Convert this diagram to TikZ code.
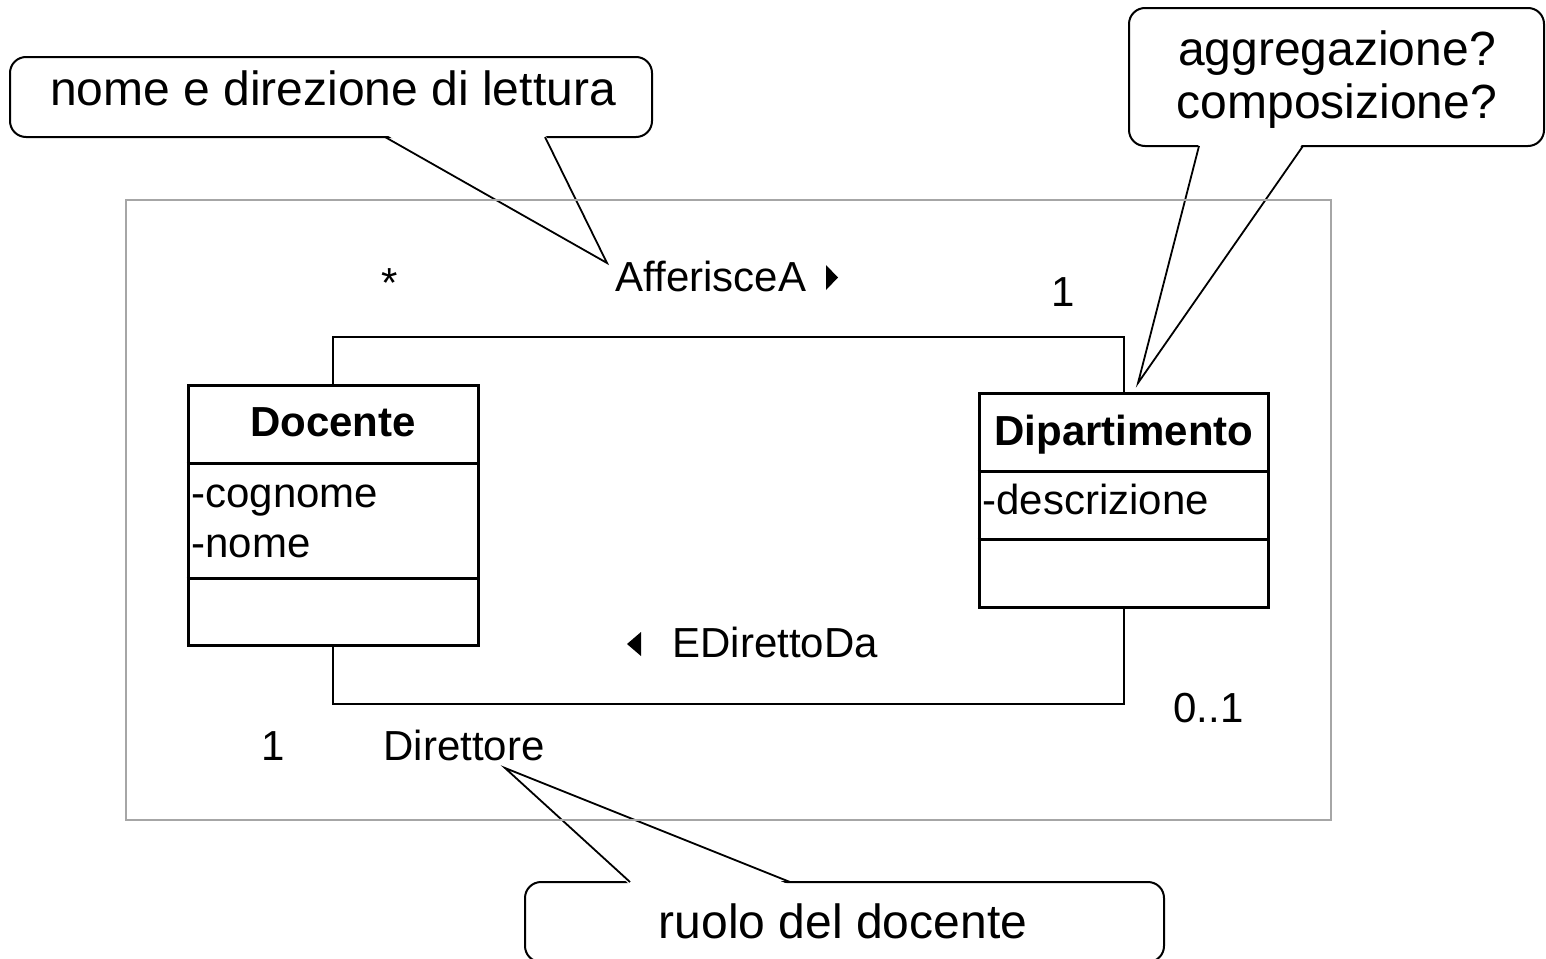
\documentclass[tikz,border=0pt]{standalone}
\usepackage{fontspec}
\setmainfont{Liberation Sans}

\begin{document}
\begin{tikzpicture}[x=0.5pt, y=-0.5pt,
		bubble/.style={draw, line width=1pt, rounded corners=8pt, fill=white, inner sep=0pt},
		pointer/.style={line width=0.9pt, line join=miter},
		note/.style={font=\fontsize{24}{26.5}\selectfont, inner sep=0pt},
		uml/.style={font=\fontsize{21}{25}\selectfont, inner sep=0pt},
		umlbold/.style={font=\fontsize{21}{25}\selectfont\bfseries, inner sep=0pt},
		classbox/.style={draw, line width=1.5pt, inner sep=0pt},
		assoc/.style={line width=1pt}]
	\useasboundingbox (0,0) rectangle (1546,958);

	% callouts
	\node[bubble, minimum width=321pt, minimum height=40pt] (lettura) at (331,97) {};
	\coordinate (lettura tip) at (607,263);
	\fill[white] (385,134) -- (lettura tip) -- (545,134) -- cycle;
	\draw[pointer] (385,137) -- (lettura tip) -- (545,137);
	\node[note, anchor=base] (lettura text) at (333,105) {nome e direzione di lettura};

	\node[bubble, minimum width=207.5pt, minimum height=69pt] (aggregazione) at (1336.5,77) {};
	\coordinate (aggregazione tip) at (1138,383);
	\fill[white] (1199,143) -- (aggregazione tip) -- (1303,143) -- cycle;
	\draw[pointer] (1199,146) -- (aggregazione tip) -- (1303,146);
	\node[note, anchor=base] (aggregazione text) at (1337,65) {aggregazione?};
	\node[note, anchor=base] (composizione text) at (1337,118) {composizione?};

	\node[bubble, minimum width=319.5pt, minimum height=40pt] (ruolo) at (844.5,922) {};
	\coordinate (ruolo tip) at (505,768);
	\fill[white] (630,885) -- (ruolo tip) -- (790,885) -- cycle;
	\draw[pointer] (630,882) -- (ruolo tip) -- (790,882);
	\node[note, anchor=base] (ruolo text) at (843,938) {ruolo del docente};

	% diagram frame
	\draw[black!35, line width=0.6pt] (126,200) rectangle (1331,820);

	% classes
	\node[classbox, minimum width=145pt, minimum height=130pt] (docente) at (333,515) {};
	\draw[line width=1.5pt] (docente.west |- 0,463) -- (docente.east |- 0,463);
	\draw[line width=1.5pt] (docente.west |- 0,578) -- (docente.east |- 0,578);
	\node[umlbold, anchor=base] (docente name) at (333,436) {Docente};
	\node[uml, anchor=base west] (cognome) at (191,507) {-cognome};
	\node[uml, anchor=base west] (nome) at (191,557) {-nome};

	\node[classbox, minimum width=144.5pt, minimum height=107pt] (dipartimento) at (1123.5,500) {};
	\draw[line width=1.5pt] (dipartimento.west |- 0,471) -- (dipartimento.east |- 0,471);
	\draw[line width=1.5pt] (dipartimento.west |- 0,539) -- (dipartimento.east |- 0,539);
	\node[umlbold, anchor=base] (dipartimento name) at (1124,445) {Dipartimento};
	\node[uml, anchor=base west] (descrizione) at (982,514) {-descrizione};

	% associations
	\draw[assoc] (docente.north) -- ++(0,-47) -| (dipartimento.north);
	\draw[assoc] (docente.south) -- ++(0,57) -| (dipartimento.south);

	\node[uml, anchor=base] (molti) at (390,297) {*};
	\node[uml, anchor=base west] (afferisce) at (615,291) {AfferisceA};
	\fill (826,265) -- (838,277.5) -- (826,290) -- cycle;
	\node[uml, anchor=base] (uno dip) at (1063,306) {1};

	\fill (641,632) -- (627,644) -- (641,656) -- cycle;
	\node[uml, anchor=base west] (diretto) at (672,657) {EDirettoDa};
	\node[uml, anchor=base west] (zero uno) at (1173,722) {0..1};
	\node[uml, anchor=base] (uno doc) at (273,760) {1};
	\node[uml, anchor=base west] (direttore) at (383,760) {Direttore};
\end{tikzpicture}
\end{document}
